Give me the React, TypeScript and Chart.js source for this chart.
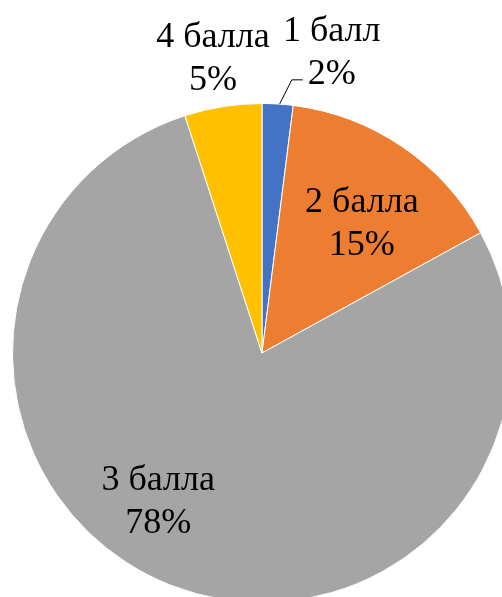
import React, { useEffect, useRef } from "react";
import { Chart, registerables } from "chart.js";

Chart.register(...registerables);

const categories = ["1 балл", "2 балла", "3 балла", "4 балла"];
const values = [2, 15, 78, 5];
const percentLabels = ["2%", "15%", "78%", "5%"];
const colors = ["#4472C4", "#ED7D31", "#A5A5A5", "#FFC000"];
// label placement: [radius factor, angle in degrees clockwise from top]
const labelPlacement: [number, number][] = [
  [1.198, 13.5],
  [0.624, 39.9],
  [0.758, 213.3],
  [1.156, 350.2],
];

const FONT = '"Liberation Serif", "Times New Roman", serif';

const labelPlugin = {
  id: "pieLabels",
  afterDatasetsDraw(chart: any) {
    const ctx = chart.ctx;
    const meta = chart.getDatasetMeta(0);
    const arcs = meta.data;
    if (!arcs.length) return;
    const cx = arcs[0].x;
    const cy = arcs[0].y;
    const R = arcs[0].outerRadius;
    ctx.save();
    ctx.fillStyle = "#000";
    ctx.font = `36px ${FONT}`;
    ctx.textAlign = "center";
    ctx.textBaseline = "alphabetic";
    const half = 21.5;
    arcs.forEach((arc: any, i: number) => {
      const [f, deg] = labelPlacement[i];
      const a = (deg * Math.PI) / 180;
      const x = cx + Math.sin(a) * R * f;
      const y = cy - Math.cos(a) * R * f;
      ctx.fillText(categories[i], x, y - half);
      ctx.fillText(percentLabels[i], x, y + half);
      if (i === 0) {
        // leader line from slice edge to label
        const mid = (arc.startAngle + arc.endAngle) / 2;
        const sx = cx + Math.cos(mid) * R;
        const sy = cy + Math.sin(mid) * R;
        const ey = y + 17.5;
        ctx.strokeStyle = "#000";
        ctx.lineWidth = 1;
        ctx.beginPath();
        ctx.moveTo(sx + 2, sy);
        ctx.lineTo(x - 40, ey);
        ctx.lineTo(x - 29, ey);
        ctx.stroke();
      }
    });
    ctx.restore();
  },
};

export default function App() {
  const ref = useRef<HTMLCanvasElement | null>(null);
  useEffect(() => {
    if (!ref.current) return;
    const chart = new Chart(ref.current, {
      type: "pie",
      data: {
        labels: categories,
        datasets: [
          {
            data: values,
            backgroundColor: colors,
            borderColor: "#ffffff",
            borderWidth: 1,
          },
        ],
      },
      options: {
        responsive: false,
        animation: false,
        layout: { padding: { left: 12, right: 12, top: 103, bottom: 103 } },
        plugins: {
          legend: { display: false },
          tooltip: { enabled: false },
        },
      },
      plugins: [labelPlugin],
    });
    return () => chart.destroy();
  }, []);
  return (
    <div
      style={{
        position: "fixed",
        left: 0,
        top: 0,
        width: 502,
        height: 597,
        overflow: "hidden",
        background: "#fff",
      }}
    >
      <canvas ref={ref} width={524} height={706} style={{ width: 524, height: 706, display: "block" }} />
    </div>
  );
}
